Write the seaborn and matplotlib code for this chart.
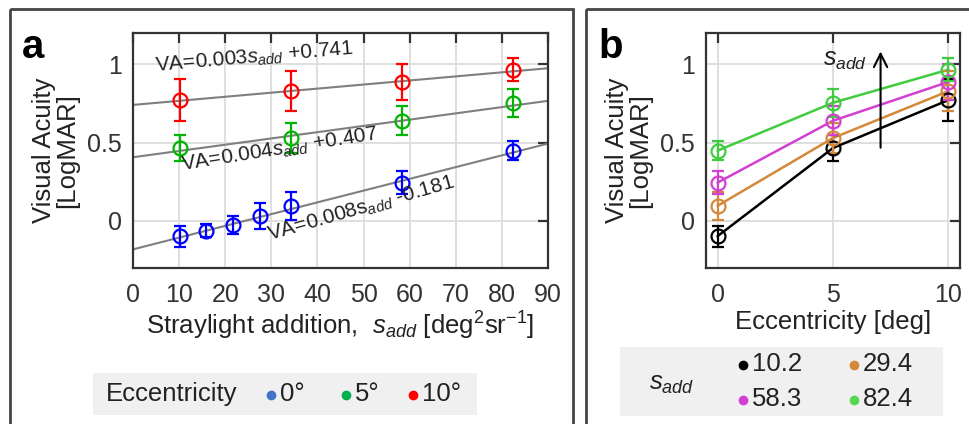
import numpy as np
import pandas as pd
import matplotlib
matplotlib.use('Agg')
import matplotlib.pyplot as plt
from matplotlib.patches import Rectangle
import seaborn as sns


# Panel a: visual acuity vs straylight addition, per eccentricity
s_add_0 = [10.2, 15.8, 21.7, 27.6, 34.3, 58.3, 82.4]
va_0 = [-0.097, -0.061, -0.025, 0.034, 0.097, 0.245, 0.449]
err_0 = [0.066, 0.040, 0.058, 0.084, 0.090, 0.074, 0.062]

s_add_5 = [10.2, 34.3, 58.3, 82.4]
va_5 = [0.466, 0.530, 0.640, 0.755]
err_5 = [0.084, 0.095, 0.093, 0.090]

s_add_10 = [10.2, 34.3, 58.3, 82.4]
va_10 = [0.772, 0.829, 0.888, 0.966]
err_10 = [0.135, 0.130, 0.116, 0.074]

# linear fits drawn as grey lines
fit_slope = [0.0075, 0.0040, 0.0026]
fit_icpt = [-0.181, 0.407, 0.741]
fit_text = [r'VA=0.008s$_{add}$ -0.181',
            r'VA=0.004$s_{add}$ +0.407',
            r'VA=0.003$s_{add}$ +0.741']

# Panel b: visual acuity vs eccentricity, per straylight level
ecc = [0, 5, 10]
s_levels = ['10.2', '29.4', '58.3', '82.4']
va_b = [[-0.097, 0.466, 0.772],
        [0.097, 0.530, 0.829],
        [0.245, 0.640, 0.888],
        [0.449, 0.755, 0.966]]
err_b = [[0.066, 0.084, 0.135],
         [0.090, 0.095, 0.130],
         [0.074, 0.093, 0.116],
         [0.062, 0.090, 0.074]]

ecc_labels = ['0°', '5°', '10°']
colors_a = ['#0000ff', '#00b400', '#ff0000']
legend_a_colors = ['#4472c4', '#00b050', '#ff0000']
colors_b = ['#000000', '#d4883a', '#d23fd2', '#3fcc3f']
legend_b_colors = ['#000000', '#d4883a', '#d23fd2', '#55d655']

FS_TICK = 18
FS_LABEL = 18.5


def style_axes(ax):
	ax.set_ylim(-0.3, 1.2)
	ax.set_yticks([0, 0.5, 1])
	ax.set_yticklabels(['0', '0.5', '1'])
	ax.grid(True, color='#dcdcdc', lw=1.3)
	ax.tick_params(direction='in', length=7, width=1.6, color='#333333',
		       top=True, right=True, labelsize=FS_TICK, labelcolor='#333333')
	ax.tick_params(axis='x', pad=11)
	ax.tick_params(axis='y', pad=8)
	for sp in ax.spines.values():
		sp.set_color('#333333')
		sp.set_linewidth(1.6)
	ax.set_ylabel('Visual Acuity\n[LogMAR]', fontsize=FS_LABEL, color='#222222',
		      linespacing=0.95, labelpad=6)


def main():

	sns.set_theme(style='whitegrid')
	plt.rcParams['font.family'] = ['Liberation Sans', 'DejaVu Sans']
	plt.rcParams['mathtext.fontset'] = 'custom'
	plt.rcParams['mathtext.rm'] = 'Liberation Sans'
	plt.rcParams['mathtext.it'] = 'Liberation Sans:italic'

	fig = plt.figure(figsize=(9.69, 4.24), dpi=100)
	W, H = 969.0, 424.0

	# background overlay for panel frames and legends, pixel coordinates
	bg = fig.add_axes([0, 0, 1, 1], zorder=-1)
	bg.set_xlim(0, W)
	bg.set_ylim(H, 0)
	bg.axis('off')
	bg.add_patch(Rectangle((10, 9), 563, 430, fill=False, ec='#444444', lw=2))
	bg.add_patch(Rectangle((586, 9), 400, 430, fill=False, ec='#444444', lw=2))

	axa = fig.add_axes([133 / W, 1 - 268 / H, 415 / W, 235 / H])
	axb = fig.add_axes([706 / W, 1 - 268 / H, 254 / W, 235 / H])

	# ---- panel a ----
	xs = np.array([0, 90])
	for k in range(3):
		axa.plot(xs, fit_icpt[k] + fit_slope[k] * xs, color='#7f7f7f', lw=1.5, zorder=2)

	series = [(s_add_0, va_0, err_0), (s_add_5, va_5, err_5), (s_add_10, va_10, err_10)]
	for (x, y, e), c in zip(series, colors_a):
		axa.errorbar(x, y, yerr=e, fmt='o', ms=10, mfc='none', mec=c, mew=1.6,
			     ecolor=c, elinewidth=1.6, capsize=4, capthick=1.6, zorder=3)

	axa.set_xlim(0, 90)
	axa.set_xticks(np.arange(0, 91, 10))
	style_axes(axa)
	axa.set_xlabel(r'Straylight addition,  $s_{add}$ [deg$^2$sr$^{-1}$]',
		       fontsize=FS_LABEL, color='#222222', labelpad=2)

	axa.text(29.7, -0.13, fit_text[0], fontsize=15, rotation=16, rotation_mode='anchor',
		 color='#222222', zorder=4)
	axa.text(10.6, 0.32, fit_text[1], fontsize=15, rotation=9, rotation_mode='anchor',
		 color='#222222', zorder=4)
	axa.text(4.8, 0.95, fit_text[2], fontsize=15, rotation=5, rotation_mode='anchor',
		 color='#222222', zorder=4)

	# ---- panel b ----
	rows = []
	for lev, vals in zip(s_levels, va_b):
		for e, v in zip(ecc, vals):
			rows.append({'ecc': e, 'va': v, 's_add': lev})
	df_b = pd.DataFrame(rows)
	sns.lineplot(data=df_b, x='ecc', y='va', hue='s_add', palette=colors_b,
		     lw=1.8, legend=False, ax=axb, zorder=2)
	for vals, errs, c in zip(va_b, err_b, colors_b):
		axb.errorbar(ecc, vals, yerr=errs, fmt='o', ms=10, mfc='none', mec=c, mew=1.6,
			     ecolor=c, elinewidth=1.6, capsize=4, capthick=1.6, zorder=3)

	axb.set_xlim(-0.5, 10.5)
	axb.set_xticks([0, 5, 10])
	style_axes(axb)
	axb.set_xlabel('Eccentricity [deg]', fontsize=FS_LABEL, color='#222222', labelpad=2)
	axb.annotate('', xy=(7.06, 1.1), xytext=(7.06, 0.45),
		     arrowprops=dict(arrowstyle='->', lw=1.5, color='black', mutation_scale=24))
	axb.text(6.5, 1.03, r'$s_{add}$', fontsize=18, ha='right', va='center', color='#222222')

	# ---- panel letters ----
	fig.text(22 / W, 1 - 58 / H, 'a', fontsize=29, fontweight='bold', color='black')
	fig.text(598 / W, 1 - 58 / H, 'b', fontsize=29, fontweight='bold', color='black')

	# ---- legend a ----
	bg.add_patch(Rectangle((93, 373), 384, 42, fc='#f0f0f0', ec='none'))
	bg.text(106, 394, 'Eccentricity', fontsize=FS_LABEL, va='center', color='#222222')
	for xd, c, lab in zip([271, 346, 413], legend_a_colors, ecc_labels):
		bg.plot([xd], [395], 'o', ms=6, color=c)
		bg.text(xd + 9, 394, lab, fontsize=FS_LABEL, va='center', color='#222222')

	# ---- legend b ----
	bg.add_patch(Rectangle((620, 347), 323, 69, fc='#f0f0f0', ec='none'))
	bg.text(672, 384, r'$s_{add}$', fontsize=FS_LABEL, ha='center', va='center', color='#222222')
	pos_b = [(743, 365), (854, 365), (743, 400), (854, 400)]
	for (xd, yd), k in zip(pos_b, range(4)):
		bg.plot([xd], [yd], 'o', ms=6, color=legend_b_colors[k])
		bg.text(xd + 9, yd - 1, s_levels[k], fontsize=FS_LABEL, va='center', color='#222222')

	fig.savefig('out.png', dpi=100)


if __name__ == "__main__":
	main()
